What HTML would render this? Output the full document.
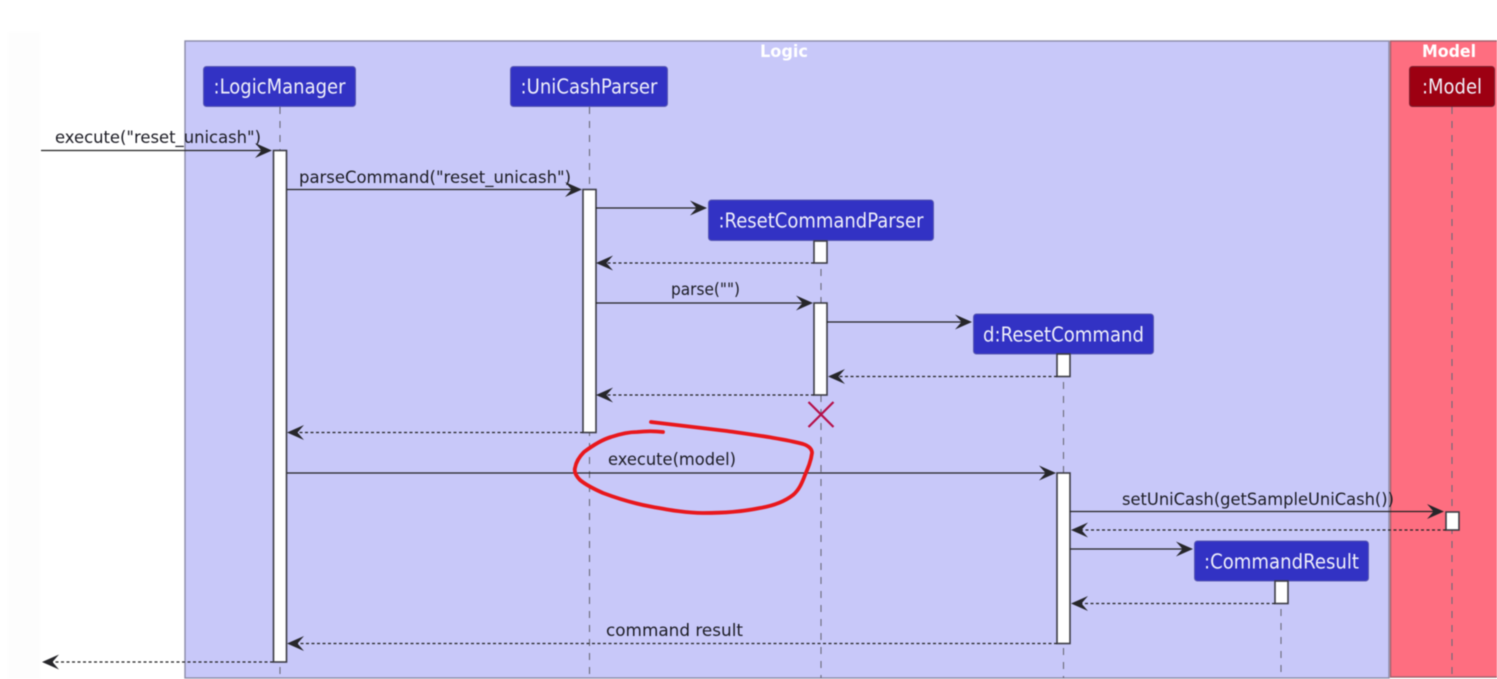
<!DOCTYPE html>
<html>
<head>
<meta charset="utf-8">
<style>
html,body{margin:0;padding:0;background:#fff;width:1497px;height:679px;overflow:hidden}
svg{display:block;filter:blur(0.45px)}
text{font-family:"DejaVu Sans","Liberation Sans",sans-serif}
.m{font-size:17px;fill:#1c1c24}
.p{font-size:20.5px;fill:#f0f0fa}
.t{font-size:16.5px;font-weight:bold;fill:#fff}
.life{stroke:#6a6a78;stroke-width:1.1;stroke-dasharray:7 7;fill:none}
.box{fill:#3232c4;stroke:#5a5ab0;stroke-width:1}
.boxr{fill:#9d0012;stroke:#7a2030;stroke-width:1}
.act{fill:#fff;stroke:#3c3c44;stroke-width:1.6}
.s{stroke:#222;stroke-width:1.3;fill:none}
.d{stroke:#222;stroke-width:1.2;stroke-dasharray:3 2.5;fill:none}
.h{fill:#26262a}
</style>
</head>
<body>
<svg width="1497" height="679" viewBox="0 0 1497 679" xmlns="http://www.w3.org/2000/svg">
<defs>
<path id="ar" d="M0 0 L-17 -7.500 L-10.500 0 L-17 7.500 Z"/>
<path id="al" d="M0 0 L17 -7.500 L10.500 0 L17 7.500 Z"/>
</defs>
<rect width="1497" height="679" fill="#fff"/>
<rect x="8" y="32" width="32" height="647" fill="#fdfdfd"/>

<rect x="185" y="41" width="1204" height="637" fill="#c8c8f9" stroke="#8b8ba8" stroke-width="1.4"/>
<rect x="1390.500" y="41" width="110" height="636" fill="#fe6e80" stroke="#a0606c" stroke-width="1.4"/>
<text class="t" x="784" y="57" text-anchor="middle" textLength="48" lengthAdjust="spacingAndGlyphs">Logic</text>
<text class="t" x="1449" y="57" text-anchor="middle" textLength="54" lengthAdjust="spacingAndGlyphs">Model</text>

<!-- lifelines -->
<line class="life" x1="280" y1="107" x2="280" y2="678"/>
<line class="life" x1="589.500" y1="107" x2="589.500" y2="678"/>
<line class="life" x1="821" y1="241" x2="821" y2="678"/>
<line class="life" x1="1063.500" y1="354" x2="1063.500" y2="678"/>
<line class="life" x1="1281" y1="581" x2="1281" y2="678"/>
<line class="life" x1="1452" y1="107" x2="1452" y2="677"/>

<!-- participants -->
<rect class="box" x="203.500" y="66.500" width="152" height="40" rx="3"/>
<text class="p" x="279.500" y="93.500" text-anchor="middle" textLength="132" lengthAdjust="spacingAndGlyphs">:LogicManager</text>
<rect class="box" x="510.500" y="66.500" width="157" height="40" rx="3"/>
<text class="p" x="589" y="93.500" text-anchor="middle" textLength="137" lengthAdjust="spacingAndGlyphs">:UniCashParser</text>
<rect class="box" x="708.500" y="200" width="225" height="40.500" rx="3"/>
<text class="p" x="821" y="227.500" text-anchor="middle" textLength="205" lengthAdjust="spacingAndGlyphs">:ResetCommandParser</text>
<rect class="box" x="973.500" y="314" width="180" height="40" rx="3"/>
<text class="p" x="1063.500" y="341.500" text-anchor="middle" textLength="161" lengthAdjust="spacingAndGlyphs">d:ResetCommand</text>
<rect class="box" x="1194.500" y="541" width="174" height="40" rx="3"/>
<text class="p" x="1281.500" y="568.500" text-anchor="middle" textLength="155" lengthAdjust="spacingAndGlyphs">:CommandResult</text>
<rect class="boxr" x="1409.500" y="66.500" width="85" height="40" rx="3"/>
<text class="p" x="1452" y="93.500" text-anchor="middle" textLength="60" lengthAdjust="spacingAndGlyphs">:Model</text>

<!-- activations -->
<rect class="act" x="273.500" y="150.500" width="13" height="511.500"/>
<rect class="act" x="583" y="189.500" width="13" height="243"/>
<rect class="act" x="814" y="241" width="13" height="22"/>
<rect class="act" x="814" y="303" width="13" height="92"/>
<rect class="act" x="1057" y="354" width="13" height="22.500"/>
<rect class="act" x="1057" y="473" width="13" height="170.500"/>
<rect class="act" x="1275" y="581" width="13" height="22.500"/>
<rect class="act" x="1446" y="512" width="13" height="18"/>

<!-- solid messages -->
<line class="s" x1="41" y1="150.500" x2="262" y2="150.500"/><use href="#ar" class="h" x="272" y="150.500"/>
<line class="s" x1="287" y1="189.500" x2="572" y2="189.500"/><use href="#ar" class="h" x="582" y="189.500"/>
<line class="s" x1="596" y1="208" x2="697" y2="208"/><use href="#ar" class="h" x="707" y="208"/>
<line class="s" x1="596" y1="303" x2="803" y2="303"/><use href="#ar" class="h" x="813" y="303"/>
<line class="s" x1="827" y1="322" x2="962" y2="322"/><use href="#ar" class="h" x="972" y="322"/>
<line class="s" x1="287" y1="473" x2="1046" y2="473"/><use href="#ar" class="h" x="1056" y="473"/>
<line class="s" x1="1070" y1="511.500" x2="1434" y2="511.500"/><use href="#ar" class="h" x="1444" y="511.500"/>
<line class="s" x1="1070" y1="549" x2="1183" y2="549"/><use href="#ar" class="h" x="1193" y="549"/>

<!-- dashed returns -->
<line class="d" x1="814" y1="263" x2="606" y2="263"/><use href="#al" class="h" x="596" y="263"/>
<line class="d" x1="1057" y1="376.500" x2="838" y2="376.500"/><use href="#al" class="h" x="828" y="376.500"/>
<line class="d" x1="814" y1="395" x2="606" y2="395"/><use href="#al" class="h" x="596" y="395"/>
<line class="d" x1="583" y1="432.500" x2="297" y2="432.500"/><use href="#al" class="h" x="287" y="432.500"/>
<line class="d" x1="1446" y1="530" x2="1081" y2="530"/><use href="#al" class="h" x="1071" y="530"/>
<line class="d" x1="1275" y1="603.500" x2="1081" y2="603.500"/><use href="#al" class="h" x="1071" y="603.500"/>
<line class="d" x1="1057" y1="643.500" x2="297" y2="643.500"/><use href="#al" class="h" x="287" y="643.500"/>
<line class="d" x1="273" y1="662" x2="52" y2="662"/><use href="#al" class="h" x="42" y="662"/>

<!-- labels -->
<text class="m" x="55" y="143" textLength="206" lengthAdjust="spacingAndGlyphs">execute("reset_unicash")</text>
<text class="m" x="299" y="183" textLength="272" lengthAdjust="spacingAndGlyphs">parseCommand("reset_unicash")</text>
<text class="m" x="671" y="295" textLength="69" lengthAdjust="spacingAndGlyphs">parse("")</text>
<text class="m" x="608" y="465" textLength="128" lengthAdjust="spacingAndGlyphs">execute(model)</text>
<text class="m" x="1122" y="505" textLength="272" lengthAdjust="spacingAndGlyphs">setUniCash(getSampleUniCash())</text>
<text class="m" x="606" y="636" textLength="137" lengthAdjust="spacingAndGlyphs">command result</text>

<!-- destroy X -->
<path d="M808.500 402 L833.500 427 M833.500 402 L808.500 427" stroke="#b5104a" stroke-width="2.2" fill="none"/>

<!-- red hand drawn circle -->
<path d="M651 422 C677 425 703 428 727 431 C755 435 785 439 803 444 C809 446 812 449 812 453 C811 461 808 468 805 475 C802 483 799 490 793 495 C784 502 772 506 760 508 C741 512 722 513 703 513 C686 513 670 510 653 507 C636 504 619 499 603 493 C594 489 586 485 580 480 C576 476 574 472 575 468 C576 462 579 457 584 452 C592 446 601 440 611 437 C620 434 628 432 637 432 C646 431 655 431 663 432" stroke="#e8171c" stroke-width="3.800" fill="none" stroke-linecap="round" stroke-linejoin="round"/>
</svg>
</body>
</html>
